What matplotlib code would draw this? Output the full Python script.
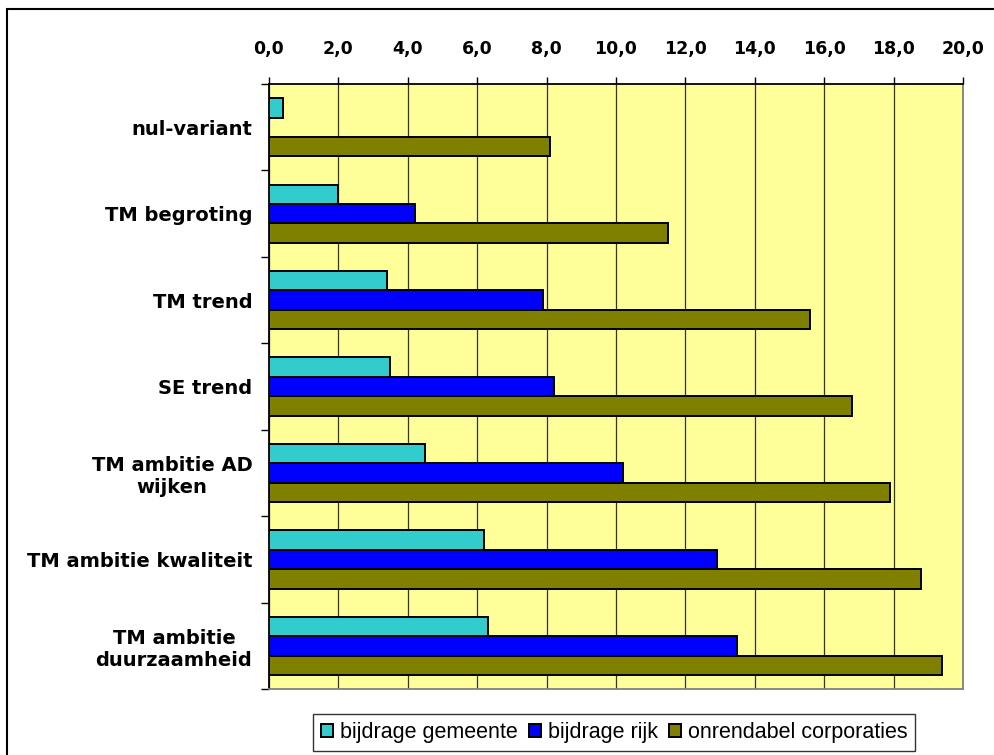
import numpy as np
import matplotlib
matplotlib.use("Agg")
import matplotlib.pyplot as plt
from matplotlib.patches import Rectangle
from matplotlib.ticker import FuncFormatter, MultipleLocator

# --------------------------
# Data (mld euro)
# --------------------------
categories = ["nul-variant", "TM begroting", "TM trend", "SE trend",
              "TM ambitie AD\nwijken", "TM ambitie kwaliteit",
              "TM ambitie\nduurzaamheid"]
gemeente = [0.4, 2.0, 3.4, 3.5, 4.5, 6.2, 6.3]
rijk = [np.nan, 4.2, 7.9, 8.2, 10.2, 12.9, 13.5]
corporaties = [8.1, 11.5, 15.6, 16.8, 17.9, 18.8, 19.4]
series_labels = ["bijdrage gemeente", "bijdrage rijk", "onrendabel corporaties"]
colors = ["#33CCCC", "#0000FF", "#808000"]

fig = plt.figure(figsize=(9.94, 7.55), dpi=100)
fig.patch.set_facecolor("white")
ax = fig.add_axes([0.2706, 0.0874, 0.6982, 0.8013])
ax.set_facecolor("#FFFF99")

# --------------------------
# Bars
# --------------------------
pos = np.arange(len(categories)) + 0.5
h = 0.225
handles = []
for k, (vals, col, lab) in enumerate(zip([gemeente, rijk, corporaties], colors, series_labels)):
    b = ax.barh(pos + (k - 1) * h, vals, height=h, color=col,
                edgecolor="black", linewidth=1.4, label=lab, zorder=3)
    handles.append(b)

ax.set_xlim(0, 20)
ax.set_ylim(len(categories), 0)

# x axis on top, comma decimals
ax.xaxis.tick_top()
ax.xaxis.set_major_locator(MultipleLocator(2))
ax.xaxis.set_major_formatter(FuncFormatter(lambda v, p: f"{v:.1f}".replace(".", ",")))
ax.tick_params(axis="x", which="major", length=5, width=1, direction="out",
               pad=14, labelsize=12.5, colors="black")
for t in ax.get_xticklabels():
    t.set_fontweight("bold")
ax.grid(axis="x", color="#333333", linewidth=0.9, zorder=1)

# category labels in the middle, tick marks on the boundaries
ax.set_yticks(pos)
ax.set_yticklabels(categories, fontsize=14, fontweight="bold", multialignment="center")
ax.set_yticks(np.arange(len(categories) + 1), minor=True)
ax.tick_params(axis="y", which="major", length=0, pad=12)
ax.tick_params(axis="y", which="minor", length=6, width=1, direction="out")

ax.spines["top"].set_color("black")
ax.spines["left"].set_color("black")
ax.spines["right"].set_color("#808080")
ax.spines["bottom"].set_color("#808080")
for s in ax.spines.values():
    s.set_linewidth(1.3)

# --------------------------
# Legend
# --------------------------
leg = fig.legend(handles=handles, labels=series_labels, loc="center",
                 bbox_to_anchor=(0.618, 0.0298), ncol=3,
                 prop={"family": "Liberation Sans", "size": 15.5},
                 frameon=True, fancybox=False, edgecolor="black",
                 handlelength=0.55, handleheight=0.55, handletextpad=0.35,
                 columnspacing=0.5, borderpad=0.35)
leg.get_frame().set_linewidth(1.0)

# outer frame
fig.patches.append(Rectangle((7 / 994, -0.1), 1.2, 1 - 9 / 755 + 0.1,
                             transform=fig.transFigure, fill=False,
                             edgecolor="black", linewidth=1.5))

fig.savefig("out.png", dpi=100)
